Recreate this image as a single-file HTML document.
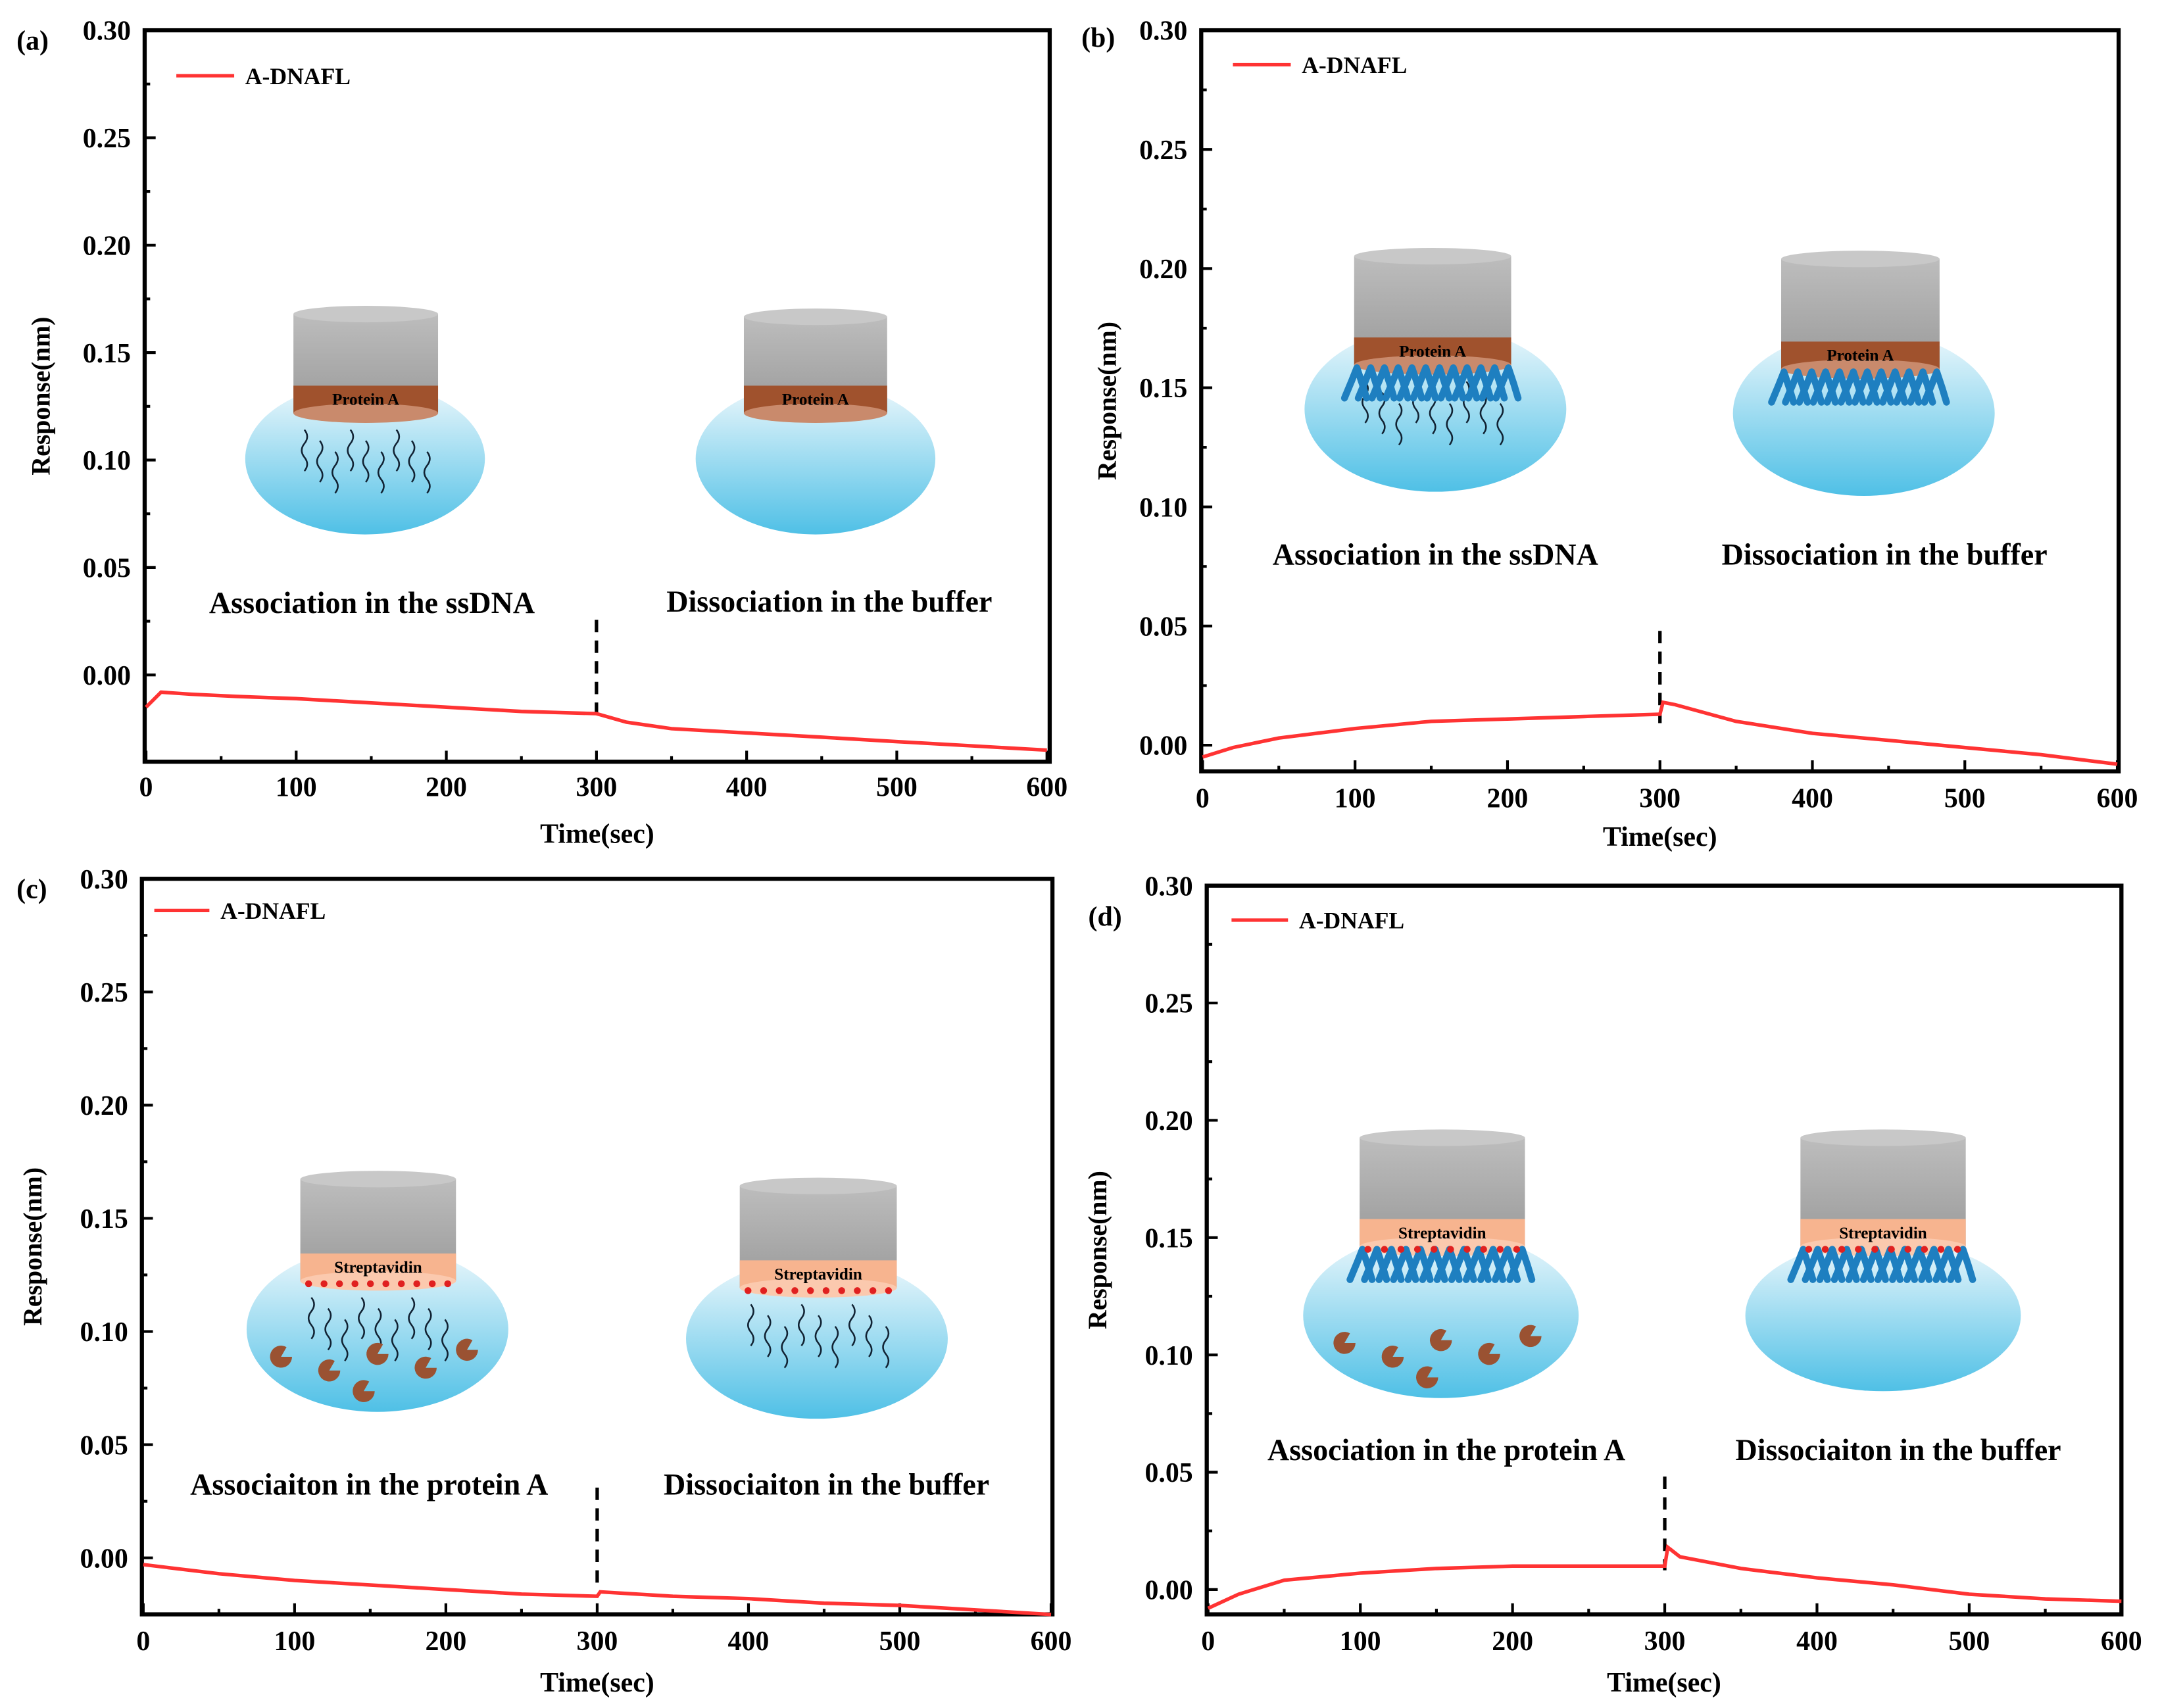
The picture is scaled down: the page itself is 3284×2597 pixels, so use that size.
<!DOCTYPE html>
<html><head><meta charset="utf-8"><style>
html,body{margin:0;padding:0;background:#fff}
svg{display:block}
text{font-family:"Liberation Serif",serif;font-weight:bold;fill:#000}
</style></head><body>
<svg id="fig" width="3284" height="2597" viewBox="0 0 1568 1240" xmlns="http://www.w3.org/2000/svg">
<defs>
<linearGradient id="blue" x1="0" y1="0" x2="0" y2="1"><stop offset="0" stop-color="#eef8fc"/><stop offset="1" stop-color="#4fc0e6"/></linearGradient>
<linearGradient id="grey" x1="0" y1="0" x2="0" y2="1"><stop offset="0" stop-color="#bdbdbd"/><stop offset="1" stop-color="#9a9a9a"/></linearGradient>
</defs>
</svg>
<script>
// ---- data (time in sec, response in nm) ----
const tA=[0,10,30,60,100,150,200,250,300,320,350,400,450,500,550,600];
const yA=[-0.015,-0.008,-0.009,-0.010,-0.011,-0.013,-0.015,-0.017,-0.018,-0.022,-0.025,-0.027,-0.029,-0.031,-0.033,-0.035];
const tB=[0,20,50,100,150,200,250,300,302,310,350,400,450,500,550,600];
const yB=[-0.005,-0.001,0.003,0.007,0.010,0.011,0.012,0.013,0.018,0.017,0.010,0.005,0.002,-0.001,-0.004,-0.008];
const tC=[0,50,100,150,200,250,300,302,350,400,450,500,550,600];
const yC=[-0.003,-0.007,-0.010,-0.012,-0.014,-0.016,-0.017,-0.015,-0.017,-0.018,-0.020,-0.021,-0.023,-0.025];
const tD=[0,20,50,100,150,200,250,300,302,310,350,400,450,500,550,600];
const yD=[-0.008,-0.002,0.004,0.007,0.009,0.010,0.010,0.010,0.018,0.014,0.009,0.005,0.002,-0.002,-0.004,-0.005];
const yTicks=[0.00,0.05,0.10,0.15,0.20,0.25,0.30];
const xTicks=[0,100,200,300,400,500,600];

const NS="http://www.w3.org/2000/svg";
const svg=document.getElementById('fig');
function mk(tag,attrs,parent){const e=document.createElementNS(NS,tag);for(const k in attrs)e.setAttribute(k,attrs[k]);(parent||svg).appendChild(e);return e;}

const panels=[
 {id:'a',box:[105,22,762,553],x0:106,x1:760,y0:490,y30:22,t:tA,y:yA,label:[12,36],leg:[128,170,55],
  ills:[[265,333,87,55,213,318,222,300,'Protein A','brown','ss'],[592,333,87,55,540,644,224,300,'Protein A','brown','none']],
  texts:[[270,445,'Association in the ssDNA'],[602,444,'Dissociation in the buffer']],dash:[450,518],xt:[580,612,'Time(sec)'],yt:36},
 {id:'b',box:[872,22,1538,560],x0:873,x1:1537,y0:541,y30:22,t:tB,y:yB,label:[785,34],leg:[895,937,47],
  ills:[[1042,297,95,60,983,1097,180,265,'Protein A','brown','ab+ss'],[1353,300,95,60,1293,1408,182,268,'Protein A','brown','ab']],
  texts:[[1042,410,'Association in the ssDNA'],[1368,410,'Dissociation in the buffer']],dash:[458,525],xt:[588,614,'Time(sec)'],yt:810},
 {id:'c',box:[103,638,764,1172],x0:104,x1:763,y0:1131,y30:638,t:tC,y:yC,label:[12,652],leg:[112,152,661],
  ills:[[274,965,95,60,218,331,850,930,'Streptavidin','peach','ss+pa'],[593,972,95,58,537,651,855,935,'Streptavidin','peach','ss']],
  texts:[[268,1085,'Associaiton in the protein A'],[600,1085,'Dissociaiton in the buffer']],dash:[1080,1150],xt:[1200,1228,'Time(sec)'],yt:30},
 {id:'d',box:[876,643,1540,1172],x0:877,x1:1540,y0:1154,y30:643,t:tD,y:yD,label:[790,672],leg:[894,935,668],
  ills:[[1046,955,100,60,987,1107,820,905,'Streptavidin','peach','ab+pa'],[1367,955,100,55,1307,1427,820,905,'Streptavidin','peach','ab1']],
  texts:[[1050,1060,'Association in the protein A'],[1378,1060,'Dissociaiton in the buffer']],dash:[1072,1140],xt:[1200,1228,'Time(sec)'],yt:803}
];

panels.forEach(p=>{
 const g=mk('g',{});
 
 
 const sx=v=>p.x0+(v/600)*(p.x1-p.x0);
 const sy=v=>p.y0-(v/0.30)*(p.y0-p.y30);
 const [bx0,by0,bx1,by1]=p.box;
 p.ills.forEach((il,i)=>{
  const [cx,cy,rx,ry,cxl,cxr,ct,cb,lab,col,kind]=il;
  const ig=mk('g',{},g);
  
  
  mk('ellipse',{cx,cy,rx,ry,fill:'url(#blue)'},ig);
  const w=cxr-cxl, bandH=20;
  mk('rect',{x:cxl,y:ct+6,width:w,height:cb-ct-6,fill:'url(#grey)'},ig);
  mk('ellipse',{cx:(cxl+cxr)/2,cy:ct+6,rx:w/2,ry:6,fill:'#c8c8c8'},ig);
  const bc=col==='brown'?'#a0522d':'#f7b48f';
  mk('rect',{x:cxl,y:cb-bandH,width:w,height:bandH,fill:bc},ig);
  mk('ellipse',{cx:(cxl+cxr)/2,cy:cb,rx:w/2,ry:7,fill:col==='brown'?'#c98a6c':'#fbc9ae'},ig);
  const t=mk('text',{x:(cxl+cxr)/2,y:cb-6,'font-size':12,'text-anchor':'middle'},ig);t.textContent=lab;
  if(kind.includes('ss')){
   for(let k=0;k<9;k++){const x=cxl+8+k*(w-16)/8, y=cb+12+(k%3)*8;
    mk('path',{d:`M${x} ${y} q4 5 0 10 q-4 5 0 10 q4 5 0 10`,stroke:'#123',fill:'none','stroke-width':1.2},ig);}
  }
  if(kind.includes('ab')){
   for(let k=0;k<12;k++){const x=cxl+2+k*(w-4)/11;
    mk('path',{d:`M${x} ${cb+2} l-4 10 M${x} ${cb+2} l4 12 M${x-4} ${cb+12} l-5 12 M${x+4} ${cb+14} l3 10`,stroke:'#1e7fc0','stroke-width':5,'stroke-linecap':'round',fill:'none'},ig);}
  }
  if(kind.includes('pa')){
   const pts=[[-70,20],[-35,30],[0,18],[35,28],[65,15],[-10,45]];
   pts.forEach(q=>mk('path',{d:`M${cx+q[0]} ${cy+q[1]} m8 0 a8 8 0 1 1 -4 -7 l-4 7z`,fill:'#9a5232'},ig));
  }
  if(col==='peach'){
   for(let k=0;k<10;k++) mk('circle',{cx:cxl+6+k*(w-12)/9,cy:cb+2,r:2.5,fill:'#e02020'},ig);
  }
 });
 const fr=mk('rect',{x:bx0,y:by0,width:bx1-bx0,height:by1-by0,fill:'none',stroke:'#000','stroke-width':3},g);
 
 
 yTicks.forEach((v,i)=>{const y=sy(v);
  mk('line',{x1:bx0,x2:bx0+8,y1:y,y2:y,stroke:'#000','stroke-width':2},g);
  if(i<yTicks.length-1){const ym=sy(v+0.025);mk('line',{x1:bx0,x2:bx0+4,y1:ym,y2:ym,stroke:'#000','stroke-width':2},g);}
  const t=mk('text',{x:bx0-10,y:y+7,'font-size':20,'text-anchor':'end'},g);t.textContent=v.toFixed(2);
  
  
 });
 xTicks.forEach((v,i)=>{const x=sx(v);
  mk('line',{x1:x,x2:x,y1:by1,y2:by1-8,stroke:'#000','stroke-width':2},g);
  if(i<xTicks.length-1){const xm=sx(v+50);mk('line',{x1:xm,x2:xm,y1:by1,y2:by1-4,stroke:'#000','stroke-width':2},g);}
  const t=mk('text',{x:x,y:p.xt[0]-2,'font-size':20,'text-anchor':'middle'},g);t.textContent=v;
  
  
 });
 const xt=mk('text',{x:(bx0+bx1)/2,y:p.xt[1],'font-size':20,'text-anchor':'middle'},g);xt.textContent=p.xt[2];
 
 
 const ymid=(by0+by1)/2;
 const yt=mk('text',{x:p.yt,y:ymid,'font-size':19,'text-anchor':'middle',transform:`rotate(-90 ${p.yt} ${ymid})`},g);yt.textContent='Response(nm)';
 
 
 const pl=mk('text',{x:p.label[0],y:p.label[1],'font-size':20},g);pl.textContent='('+p.id+')';
 
 
 p.texts.forEach(tx=>{const t=mk('text',{x:tx[0],y:tx[1],'font-size':22,'text-anchor':'middle'},g);t.textContent=tx[2];
  
  });
 const dl=mk('line',{x1:sx(300),x2:sx(300),y1:p.dash[0],y2:p.dash[1],stroke:'#000','stroke-width':2.5,'stroke-dasharray':'9 6'},g);
 
 
 const d=p.t.map((v,i)=>(i?'L':'M')+sx(v).toFixed(1)+' '+sy(p.y[i]).toFixed(1)).join(' ');
 const line=mk('path',{d,fill:'none',stroke:'#f33','stroke-width':2.6},g);
 
 
 const lg=mk('g',{},g);
 
 
 mk('line',{x1:p.leg[0],x2:p.leg[1],y1:p.leg[2],y2:p.leg[2],stroke:'#f33','stroke-width':2.5},lg);
 const lt=mk('text',{x:p.leg[1]+8,y:p.leg[2]+6,'font-size':17},lg);lt.textContent='A-DNAFL';
});
</script>
</body></html>
